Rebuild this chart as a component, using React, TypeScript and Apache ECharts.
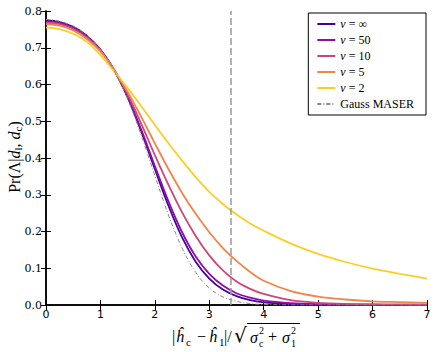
import React, { useEffect, useRef } from "react";
import * as echarts from "echarts";

const xs = [0, 0.25, 0.5, 0.75, 1, 1.25, 1.5, 1.75, 2, 2.25, 2.5, 2.75, 3, 3.25, 3.5, 3.75, 4, 4.5, 5, 5.5, 6, 6.5, 7];
const nuInf = [0.775, 0.770, 0.757, 0.733, 0.695, 0.640, 0.565, 0.472, 0.370, 0.270, 0.184, 0.118, 0.072, 0.042, 0.024, 0.013, 0.007, 0.002, 0.0005, 0.0001, 0, 0, 0];
const nu50 = [0.772, 0.768, 0.755, 0.731, 0.694, 0.640, 0.567, 0.477, 0.378, 0.282, 0.198, 0.132, 0.085, 0.053, 0.032, 0.020, 0.012, 0.005, 0.002, 0.001, 0.0005, 0.0003, 0.0002];
const nu10 = [0.768, 0.764, 0.751, 0.728, 0.692, 0.640, 0.573, 0.493, 0.408, 0.327, 0.252, 0.188, 0.135, 0.094, 0.064, 0.044, 0.030, 0.013, 0.006, 0.003, 0.002, 0.0015, 0.001];
const nu5 = [0.764, 0.760, 0.747, 0.724, 0.690, 0.641, 0.580, 0.512, 0.440, 0.370, 0.305, 0.248, 0.198, 0.155, 0.120, 0.090, 0.066, 0.038, 0.023, 0.015, 0.010, 0.008, 0.006];
const nu2 = [0.755, 0.751, 0.738, 0.716, 0.680, 0.636, 0.590, 0.541, 0.490, 0.440, 0.393, 0.348, 0.308, 0.275, 0.246, 0.222, 0.202, 0.167, 0.139, 0.117, 0.099, 0.085, 0.072];
const gauss = [0.777, 0.772, 0.759, 0.734, 0.695, 0.638, 0.560, 0.462, 0.352, 0.245, 0.155, 0.089, 0.046, 0.022, 0.010, 0.004, 0.0015, 0.0002, 0, 0, 0, 0, 0];

const seriesNames = ["ν=∞", "ν=50", "ν=10", "ν=5", "ν=2", "Gauss MASER"];
const seriesColors = ["#41049d", "#8f0da4", "#cc4778", "#f2844b", "#fcce25", "#8a8a8a"];
const seriesValues = [nuInf, nu50, nu10, nu5, nu2, gauss];
const dashedX = 3.4;

const SERIF = '"Liberation Serif", "DejaVu Serif", serif';

export default function App() {
  const ref = useRef<HTMLDivElement>(null);
  useEffect(() => {
    const chart = echarts.init(ref.current!, null, { renderer: "svg" });
    const series: any[] = seriesValues.map((vals, k) => {
      const isGauss = k === 5;
      const s: any = {
        name: seriesNames[k],
        type: "line",
        data: xs.map((x, i) => [x, vals[i]]),
        symbol: "none",
        showSymbol: false,
        smooth: 0.35,
        lineStyle: isGauss
          ? { color: seriesColors[k], width: 1, type: [4, 2, 1, 2] }
          : { color: seriesColors[k], width: 1.8 },
        itemStyle: { color: seriesColors[k] },
        z: isGauss ? 3 : 2,
      };
      if (k === 0) {
        s.markLine = {
          silent: true,
          symbol: ["none", "none"],
          label: { show: false },
          lineStyle: { color: "#999", width: 1.5, type: [7, 3] },
          data: [{ xAxis: dashedX }],
        };
      }
      return s;
    });

    const axisCommon = {
      axisLine: { show: true, lineStyle: { color: "#000", width: 1.5 } },
      axisTick: { show: true, inside: true, length: 5, lineStyle: { color: "#000", width: 1 } },
      splitLine: { show: false },
    };

    const sub = (t: string, x: number, y: number, size = 11, italic = false) => ({
      type: "text",
      x,
      y,
      style: {
        text: t,
        fontSize: size,
        fontFamily: SERIF,
        fontStyle: italic ? "italic" : "normal",
        fill: "#000",
        align: "left",
        verticalAlign: "middle",
      },
    });

    chart.setOption({
      animation: false,
      grid: { left: 46, right: 9, top: 11, bottom: 47 },
      xAxis: [
        {
          type: "value",
          min: 0,
          max: 7,
          interval: 1,
          position: "bottom",
          ...axisCommon,
          axisLabel: { color: "#000", fontSize: 11, fontFamily: "DejaVu Sans", margin: 4 },
        },
        {
          type: "value",
          min: 0,
          max: 7,
          interval: 1,
          position: "top",
          ...axisCommon,
          axisLabel: { show: false },
        },
      ],
      yAxis: [
        {
          type: "value",
          min: 0,
          max: 0.8,
          interval: 0.1,
          position: "left",
          ...axisCommon,
          axisLabel: {
            color: "#000",
            fontSize: 11,
            fontFamily: "DejaVu Serif",
            margin: 4,
            formatter: (v: number) => v.toFixed(1),
          },
        },
        {
          type: "value",
          min: 0,
          max: 0.8,
          interval: 0.1,
          position: "right",
          ...axisCommon,
          axisLabel: { show: false },
        },
      ],
      legend: {
        orient: "vertical",
        right: 10,
        top: 13,
        itemWidth: 18,
        itemHeight: 10,
        itemGap: 4,
        padding: [5, 12, 5, 8],
        borderColor: "#000",
        borderWidth: 1,
        backgroundColor: "#fff",
        itemStyle: { opacity: 0 },
        data: seriesNames,
        formatter: (name: string) => {
          if (name.startsWith("ν")) {
            const v = name.split("=")[1];
            return `{i|ν}{n| = ${v}}`;
          }
          return `{n|${name}}`;
        },
        textStyle: {
          fontSize: 12,
          lineHeight: 11,
          fontFamily: SERIF,
          color: "#000",
          rich: {
            i: { fontSize: 12, fontStyle: "italic", fontFamily: SERIF, color: "#000", lineHeight: 11 },
            n: { fontSize: 12, fontFamily: SERIF, color: "#000", lineHeight: 11 },
          },
        },
      },
      graphic: [
        {
          type: "group",
          x: 14,
          y: 157,
          rotation: Math.PI / 2,
          children: [
            {
              type: "text",
              x: 0,
              y: 0,
              style: {
                text: "{n|Pr(Λ|}{i|d}{s|l}{n|, }{i|d}{s|c}{n|)}",
                align: "center",
                verticalAlign: "middle",
                rich: {
                  n: { fontSize: 16, fontFamily: SERIF, fill: "#000" },
                  i: { fontSize: 16, fontFamily: SERIF, fontStyle: "italic", fill: "#000" },
                  s: { fontSize: 11, fontFamily: SERIF, fill: "#000", padding: [8, 0, 0, 0] },
                },
              },
            },
          ],
        },
        sub("|", 172, 336, 16),
        sub("ĥ", 176, 336, 16, true),
        sub("c", 186, 342, 11),
        sub("−", 197, 336, 16),
        sub("ĥ", 209, 336, 16, true),
        sub("1", 219, 342, 11),
        sub("|/", 224, 336, 16),
        {
          type: "text",
          x: 234,
          y: 335,
          style: {
            text: "√",
            fontSize: 20,
            fontFamily: "DejaVu Sans",
            fill: "#000",
            align: "left",
            verticalAlign: "middle",
          },
        },
        {
          type: "line",
          shape: { x1: 247, y1: 323.5, x2: 300, y2: 323.5 },
          style: { stroke: "#000", lineWidth: 1 },
        },
        sub("σ", 250, 337, 16, true),
        sub("2", 259, 330, 10),
        sub("c", 259, 343, 10),
        sub("+", 268, 336, 16),
        sub("σ", 282, 337, 16, true),
        sub("2", 291, 330, 10),
        sub("1", 291, 343, 10),
      ],
      series,
    });
    return () => chart.dispose();
  }, []);
  return (
    <div
      ref={ref}
      style={{ position: "absolute", left: 0, top: 0, width: 436, height: 352, background: "#fff" }}
    />
  );
}
